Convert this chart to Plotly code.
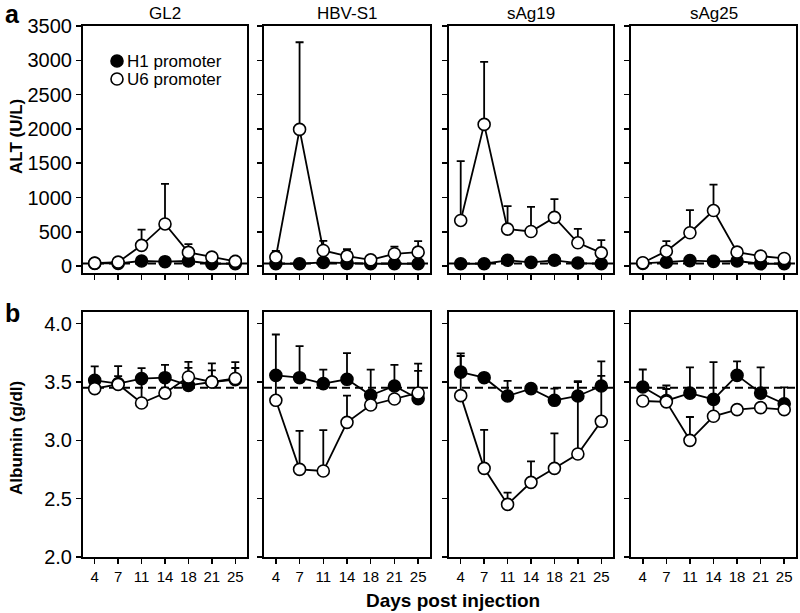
import plotly.graph_objects as go

days = ["4", "7", "11", "14", "18", "21", "25"]
panels = ["GL2", "HBV-S1", "sAg19", "sAg25"]

# ALT (U/L) — H1 promoter
alt_h1_gl2 = [40, 40, 75, 65, 75, 35, 35]
alt_h1_hbv = [35, 35, 55, 40, 35, 35, 35]
alt_h1_s19 = [35, 35, 85, 55, 85, 45, 35]
alt_h1_s25 = [40, 58, 80, 70, 75, 35, 35]
# ALT (U/L) — U6 promoter
alt_u6_gl2 = [44, 58, 303, 615, 200, 131, 70]
alt_u6_hbv = [131, 1993, 228, 146, 92, 180, 204]
alt_u6_s19 = [666, 2066, 540, 505, 710, 340, 194]
alt_u6_s25 = [50, 218, 487, 810, 204, 146, 112]
# ALT upper error
alt_u6_err_gl2 = [0, 0, 230, 585, 120, 0, 0]
alt_u6_err_hbv = [90, 1270, 140, 100, 0, 105, 160]
alt_u6_err_s19 = [865, 910, 335, 360, 267, 204, 185]
alt_u6_err_s25 = [0, 147, 330, 377, 0, 0, 0]
alt_ref = 40

# Albumin (g/dl) — H1 promoter
alb_h1_gl2 = [3.514, 3.486, 3.529, 3.537, 3.471, 3.50, 3.52]
alb_h1_hbv = [3.557, 3.537, 3.486, 3.523, 3.386, 3.466, 3.357]
alb_h1_s19 = [3.585, 3.537, 3.38, 3.443, 3.343, 3.38, 3.466]
alb_h1_s25 = [3.457, 3.34, 3.405, 3.351, 3.557, 3.405, 3.314]
alb_h1_err_gl2 = [0.12, 0.15, 0.09, 0.11, 0.15, 0.16, 0.15]
alb_h1_err_hbv = [0.35, 0.27, 0.12, 0.225, 0.22, 0.18, 0.30]
alb_h1_err_s19 = [0.16, 0.03, 0.13, 0.02, 0.10, 0.12, 0.21]
alb_h1_err_s25 = [0.15, 0.13, 0.22, 0.32, 0.12, 0.22, 0.14]
# Albumin — U6 promoter
alb_u6_gl2 = [3.443, 3.48, 3.32, 3.405, 3.543, 3.50, 3.53]
alb_u6_hbv = [3.343, 2.751, 2.737, 3.154, 3.303, 3.354, 3.406]
alb_u6_s19 = [3.383, 2.76, 2.451, 2.64, 2.76, 2.883, 3.163]
alb_u6_s25 = [3.337, 3.33, 3.0, 3.206, 3.263, 3.28, 3.263]
alb_u6_err_gl2 = [0, 0.07, 0.2, 0.12, 0.13, 0.10, 0.09]
alb_u6_err_hbv = [0.2, 0.33, 0.35, 0.23, 0, 0, 0.19]
alb_u6_err_s19 = [0.34, 0.33, 0.10, 0.18, 0.30, 0.625, 0.39]
alb_u6_err_s25 = [0, 0.11, 0.20, 0.15, 0, 0, 0]
alb_ref = 3.45

alt_h1 = [alt_h1_gl2, alt_h1_hbv, alt_h1_s19, alt_h1_s25]
alt_u6 = [alt_u6_gl2, alt_u6_hbv, alt_u6_s19, alt_u6_s25]
alt_u6_err = [alt_u6_err_gl2, alt_u6_err_hbv, alt_u6_err_s19, alt_u6_err_s25]
alb_h1 = [alb_h1_gl2, alb_h1_hbv, alb_h1_s19, alb_h1_s25]
alb_h1_err = [alb_h1_err_gl2, alb_h1_err_hbv, alb_h1_err_s19, alb_h1_err_s25]
alb_u6 = [alb_u6_gl2, alb_u6_hbv, alb_u6_s19, alb_u6_s25]
alb_u6_err = [alb_u6_err_gl2, alb_u6_err_hbv, alb_u6_err_s19, alb_u6_err_s25]

FONT = "Liberation Sans, Arial, sans-serif"
W, H = 800, 613
x_px = [(83, 247), (264, 430), (449, 613), (631, 796)]
top_px = (26, 273)
bot_px = (312, 557)

def xd(p):
    return [p[0] / W, p[1] / W]

def yd(p):
    return [1 - p[1] / H, 1 - p[0] / H]

fig = go.Figure()
layout = dict(
    width=W, height=H, margin=dict(l=0, r=0, t=0, b=0, autoexpand=False),
    paper_bgcolor="white", plot_bgcolor="white", showlegend=False,
    font=dict(family=FONT, color="black"),
)

def add_series(k, y, err, filled):
    xa = "x" if k == 1 else f"x{k}"
    ya = "y" if k == 1 else f"y{k}"
    fig.add_trace(go.Scatter(
        x=days, y=y, xaxis=xa, yaxis=ya, mode="lines+markers",
        line=dict(color="black", width=1.8),
        marker=dict(size=12, symbol="circle",
                    color="black" if filled else "white",
                    line=dict(color="black", width=1.6)),
        error_y=dict(type="data", array=err, arrayminus=[0] * len(err),
                     symmetric=False, color="black", thickness=1.8, width=4),
        cliponaxis=False, hoverinfo="skip",
    ))

shapes = []
annotations = []
for i in range(4):
    kt, kb = i + 1, i + 5
    zero = [0] * len(days)
    add_series(kt, alt_h1[i], zero, True)
    add_series(kt, alt_u6[i], alt_u6_err[i], False)
    add_series(kb, alb_h1[i], alb_h1_err[i], True)
    add_series(kb, alb_u6[i], alb_u6_err[i], False)

    common_x = dict(type="category", range=[-0.5, 6.5], showline=True, mirror=True,
                    linecolor="black", linewidth=2, ticks="outside", ticklen=5,
                    tickwidth=1.5, tickcolor="black", showgrid=False, zeroline=False,
                    fixedrange=True, automargin=False)
    layout[f"xaxis{'' if kt == 1 else kt}"] = dict(common_x, domain=xd(x_px[i]),
                                                   anchor=f"y{'' if kt == 1 else kt}",
                                                   showticklabels=False)
    layout[f"xaxis{kb}"] = dict(common_x, domain=xd(x_px[i]), anchor=f"y{kb}",
                                showticklabels=True, tickfont=dict(size=15, family=FONT))
    common_y = dict(showline=True, mirror=True, linecolor="black", linewidth=2,
                    ticks="outside", ticklen=5, tickwidth=1.5, tickcolor="black",
                    showgrid=False, zeroline=False, fixedrange=True, automargin=False,
                    tickfont=dict(size=20, family=FONT))
    layout[f"yaxis{'' if kt == 1 else kt}"] = dict(common_y, domain=yd(top_px),
                                                   anchor=f"x{'' if kt == 1 else kt}",
                                                   range=[-100, 3500],
                                                   tickvals=[0, 500, 1000, 1500, 2000, 2500, 3000, 3500],
                                                   showticklabels=(i == 0))
    layout[f"yaxis{kb}"] = dict(common_y, domain=yd(bot_px), anchor=f"x{kb}",
                                range=[2.0, 4.1], tickvals=[2.0, 2.5, 3.0, 3.5, 4.0],
                                tickformat=".1f", showticklabels=(i == 0))

    shapes.append(dict(type="line", xref=f"x{'' if kt == 1 else kt} domain", x0=0, x1=1,
                       yref=f"y{'' if kt == 1 else kt}", y0=alt_ref, y1=alt_ref,
                       line=dict(color="black", width=2, dash="8px,5px"), layer="below"))
    shapes.append(dict(type="line", xref=f"x{kb} domain", x0=0, x1=1,
                       yref=f"y{kb}", y0=alb_ref, y1=alb_ref,
                       line=dict(color="black", width=2, dash="8px,5px"), layer="below"))

    annotations.append(dict(text=panels[i], xref="paper", yref="paper",
                            x=(x_px[i][0] + x_px[i][1]) / 2 / W, y=1 - 13 / H,
                            xanchor="center", yanchor="middle", showarrow=False,
                            font=dict(size=17, family=FONT)))

# panel letters and axis titles
annotations += [
    dict(text="<b>a</b>", xref="paper", yref="paper", x=3 / W, y=1 - 14 / H,
         xanchor="left", yanchor="middle", showarrow=False, font=dict(size=25)),
    dict(text="<b>b</b>", xref="paper", yref="paper", x=3 / W, y=1 - 313 / H,
         xanchor="left", yanchor="middle", showarrow=False, font=dict(size=25)),
    dict(text="<b>ALT (U/L)</b>", xref="paper", yref="paper", x=16 / W, y=1 - 137 / H,
         xanchor="center", yanchor="middle", textangle=-90, showarrow=False,
         font=dict(size=17)),
    dict(text="<b>Albumin (g/dl)</b>", xref="paper", yref="paper", x=16 / W, y=1 - 438 / H,
         xanchor="center", yanchor="middle", textangle=-90, showarrow=False,
         font=dict(size=17)),
    dict(text="<b>Days post injection</b>", xref="paper", yref="paper", x=453 / W,
         y=1 - 600 / H, xanchor="center", yanchor="middle", showarrow=False,
         font=dict(size=19)),
]

# legend (drawn inside first top panel)
legend_items = [("H1 promoter", "black", 61), ("U6 promoter", "white", 79)]
for label, fill, ypx in legend_items:
    shapes.append(dict(type="circle", xref="paper", yref="paper",
                       xsizemode="pixel", ysizemode="pixel",
                       xanchor=117 / W, yanchor=1 - ypx / H,
                       x0=-6, x1=6, y0=-6, y1=6,
                       fillcolor=fill, line=dict(color="black", width=1.6)))
    annotations.append(dict(text=label, xref="paper", yref="paper", x=125 / W,
                            y=1 - ypx / H, xanchor="left", yanchor="middle",
                            showarrow=False, font=dict(size=17)))

layout["shapes"] = shapes
layout["annotations"] = annotations
fig.update_layout(**layout)
fig.write_html("out.html", config={"displayModeBar": False, "staticPlot": True},
               post_script="document.body.style.margin='0';document.body.style.overflow='hidden';")
